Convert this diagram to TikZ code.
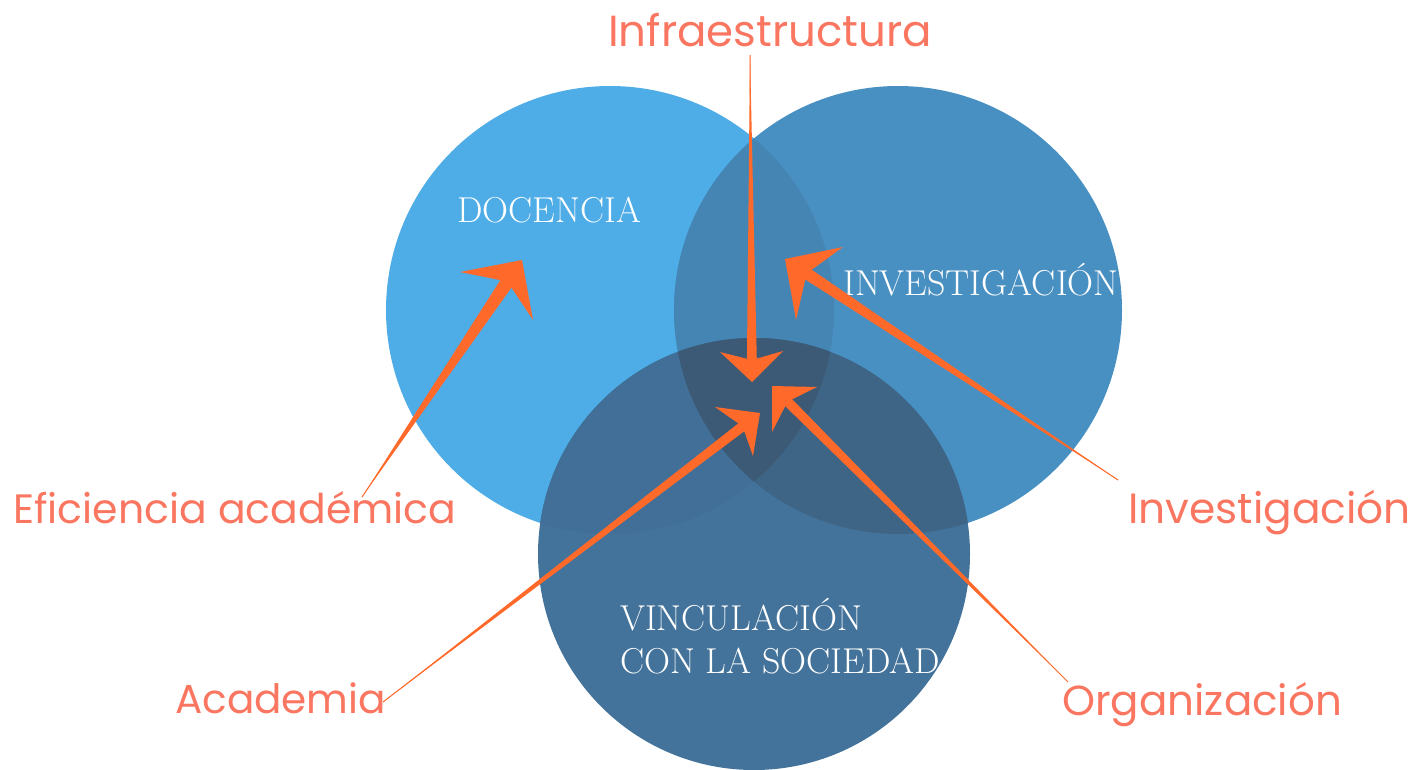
\documentclass[tikz,border=0pt]{standalone}
\usepackage{fontspec}
\newfontfamily\labfont{Poppins}
\usetikzlibrary{calc}
\definecolor{cD}{HTML}{4EACE7}
\definecolor{cI}{HTML}{4990C2}
\definecolor{cDI}{HTML}{4585B4}
\definecolor{cV}{HTML}{43739A}
\definecolor{cVD}{HTML}{416F97}
\definecolor{cVI}{HTML}{3F6586}
\definecolor{cDIV}{HTML}{3C5A75}
\definecolor{arrcol}{HTML}{FF6A2B}
\definecolor{labcol}{HTML}{FA7660}
\tikzset{
  lab/.style={text=labcol, inner sep=0pt, font=\labfont\fontsize{42}{50}\selectfont},
  wlab/.style={text=white, inner sep=0pt, font=\fontsize{36}{43}\selectfont, align=left},
  arrfill/.style={fill=arrcol, draw=none},
  arrline/.style={draw=arrcol, line width=1pt}
}
\newcommand\tarr[6]{%
  \draw[arrline] (#1) -- ($(#2)!20pt!(#1)$);
  \fill[arrfill] (#1) -- ($(#2)!18pt!(#1)!#6!90:(#1)$) -- ($(#2)!18pt!(#1)!#6!-90:(#1)$) -- cycle;
  \fill[arrfill] (#3) -- (#2) -- (#4) -- ($(#2)!#5!(#1)$) -- cycle;
}
\begin{document}
\begin{tikzpicture}[x=1pt,y=-1pt]
\useasboundingbox (0,0) rectangle (1415,769);
% circles
\fill[cD] (610,310) circle[radius=224pt];
\fill[cI] (898,310) circle[radius=224pt];
\begin{scope}
  \clip (610,310) circle[radius=224pt];
  \fill[cDI] (898,310) circle[radius=224pt];
\end{scope}
\fill[cV] (754,554) circle[radius=216pt];
\begin{scope}
  \clip (754,554) circle[radius=216pt];
  \fill[cVD] (610,310) circle[radius=224pt];
  \fill[cVI] (898,310) circle[radius=224pt];
  \clip (610,310) circle[radius=224pt];
  \fill[cDIV] (898,310) circle[radius=224pt];
\end{scope}
% circle texts
\node[wlab, anchor=base west] (doc) at (457,222) {DOCENCIA};
\node[wlab, anchor=base west] (inv) at (843,295) {INVESTIGACIÓN};
\node[wlab, anchor=base west] (vin) at (620,630) {VINCULACIÓN};
\node[wlab, anchor=base west] (con) at (620,673) {CON LA SOCIEDAD};
% labels
\node[lab, anchor=base west, font=\labfont\fontsize{43.5}{50}\selectfont] (infra) at (608,46) {Infraestructura};
\node[lab, anchor=base west, font=\labfont\fontsize{41}{50}\selectfont] (efi) at (13,523) {Eficiencia académica};
\node[lab, anchor=base west, font=\labfont\fontsize{42.3}{50}\selectfont] (invl) at (1128,523) {Investigación};
\node[lab, anchor=base west, font=\labfont\fontsize{40.5}{50}\selectfont] (aca) at (175,713) {Academia};
\node[lab, anchor=base west] (org) at (1062,715) {Organización};
% arrow points
\coordinate (t1) at (750,55);   \coordinate (p1) at (752,382);
\coordinate (a1) at (720,352);  \coordinate (b1) at (783,351);
\coordinate (t2) at (362,497);  \coordinate (p2) at (522,260);
\coordinate (a2) at (460,272);  \coordinate (b2) at (533,320);
\coordinate (t3) at (1118,480); \coordinate (p3) at (785,259);
\coordinate (a3) at (843,247);  \coordinate (b3) at (796,320);
\coordinate (t4) at (383,702);  \coordinate (p4) at (760,413);
\coordinate (a4) at (715,407);  \coordinate (b4) at (753,456);
\coordinate (t5) at (1068,682); \coordinate (p5) at (772,386);
\coordinate (a5) at (817,387);  \coordinate (b5) at (772,432);
\tarr{t1}{p1}{a1}{b1}{22pt}{5pt}
\tarr{t2}{p2}{a2}{b2}{26pt}{7pt}
\tarr{t3}{p3}{a3}{b3}{26pt}{6pt}
\tarr{t4}{p4}{a4}{b4}{22pt}{5pt}
\tarr{t5}{p5}{a5}{b5}{22pt}{5pt}
\end{tikzpicture}
\end{document}
